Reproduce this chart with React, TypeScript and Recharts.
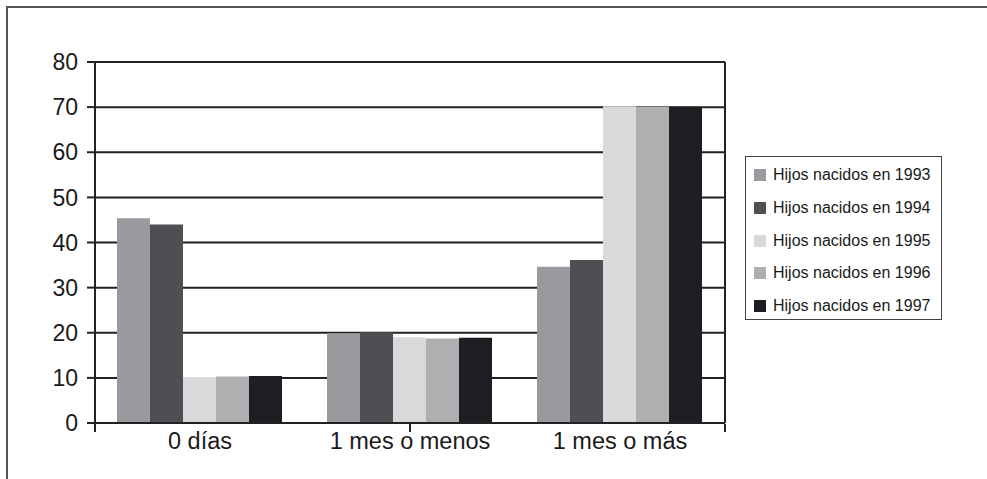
import React from "react"
import { Bar, BarChart, CartesianGrid, XAxis, YAxis } from "recharts"

// categorías del eje X
const categories = ["0 días", "1 mes o menos", "1 mes o más"]

// series (porcentaje de hijos)
const series1993 = [45.4, 19.9, 34.6]
const series1994 = [44.0, 20.1, 36.1]
const series1995 = [10.2, 19.0, 70.2]
const series1996 = [10.3, 18.7, 70.1]
const series1997 = [10.4, 18.9, 70.1]

const seriesNames = [
  "Hijos nacidos en 1993",
  "Hijos nacidos en 1994",
  "Hijos nacidos en 1995",
  "Hijos nacidos en 1996",
  "Hijos nacidos en 1997",
]
const seriesColors = ["#9a999d", "#504e53", "#d8d9db", "#afafb2", "#1d1e21"]

const yTicks = [0, 10, 20, 30, 40, 50, 60, 70, 80]
const edgeTicks = [0, 1, 2, 3]

const FONT = "'Liberation Sans', Arial, Helvetica, sans-serif"

export default function App() {
  const allSeries = [series1993, series1994, series1995, series1996, series1997]
  const data = categories.map((name, i) => {
    const row: Record<string, string | number> = { name }
    allSeries.forEach((s, k) => {
      row["s" + k] = s[i]
    })
    return row
  })

  return (
    <div style={{ position: "absolute", left: 0, top: 0, width: 987, height: 479, background: "#fff", fontFamily: FONT, overflow: "hidden" }}>
      {/* marco exterior */}
      <div
        style={{
          position: "absolute",
          left: 6,
          top: 6,
          width: 1000,
          height: 500,
          borderTop: "2px solid #555",
          borderLeft: "2px solid #555",
        }}
      />
      <BarChart
        width={987}
        height={479}
        data={data}
        margin={{ top: 62, right: 261, left: 0, bottom: 54 }}
        barCategoryGap={22}
        barGap={0}
        style={{ position: "absolute", left: 0, top: 0, fontFamily: FONT }}
      >
        <CartesianGrid horizontal vertical={false} stroke="#222" strokeWidth={2} />
        <XAxis
          dataKey="name"
          height={1}
          axisLine={{ stroke: "#222", strokeWidth: 2 }}
          tickLine={false}
          tickMargin={3}
          tick={{ fontSize: 23.5, fill: "#1a1a1a", fontFamily: FONT }}
        />
        <XAxis
          xAxisId="edge"
          type="number"
          domain={[0, 3]}
          ticks={edgeTicks}
          allowDataOverflow
          height={1}
          axisLine={false}
          tickLine={{ stroke: "#222", strokeWidth: 2 }}
          tickSize={8}
          tick={() => <g />}
        />
        <YAxis
          domain={[0, 80]}
          ticks={yTicks}
          width={95}
          axisLine={{ stroke: "#222", strokeWidth: 2 }}
          tickLine={{ stroke: "#222", strokeWidth: 2 }}
          tickSize={8}
          tickMargin={9}
          tick={{ fontSize: 23, fill: "#1a1a1a", fontFamily: FONT }}
        />
        <YAxis
          yAxisId="r"
          orientation="right"
          domain={[0, 80]}
          width={1}
          tick={false}
          tickLine={false}
          axisLine={{ stroke: "#222", strokeWidth: 2 }}
        />
        {seriesNames.map((n, k) => (
          <Bar key={n} dataKey={"s" + k} name={n} fill={seriesColors[k]} isAnimationActive={false} />
        ))}
      </BarChart>
      {/* leyenda */}
      <div
        style={{
          position: "absolute",
          left: 745,
          top: 156,
          width: 195,
          height: 162,
          border: "1px solid #444",
          boxSizing: "content-box",
        }}
      >
        {seriesNames.map((n, k) => (
          <div
            key={n}
            style={{
              position: "absolute",
              left: 8,
              top: 18 + k * 32.8 - 10,
              height: 20,
              display: "flex",
              alignItems: "center",
              whiteSpace: "nowrap",
            }}
          >
            <span style={{ display: "inline-block", width: 12, height: 12, background: seriesColors[k], marginRight: 7 }} />
            <span style={{ fontSize: 16, color: "#1a1a1a" }}>{n}</span>
          </div>
        ))}
      </div>
    </div>
  )
}
